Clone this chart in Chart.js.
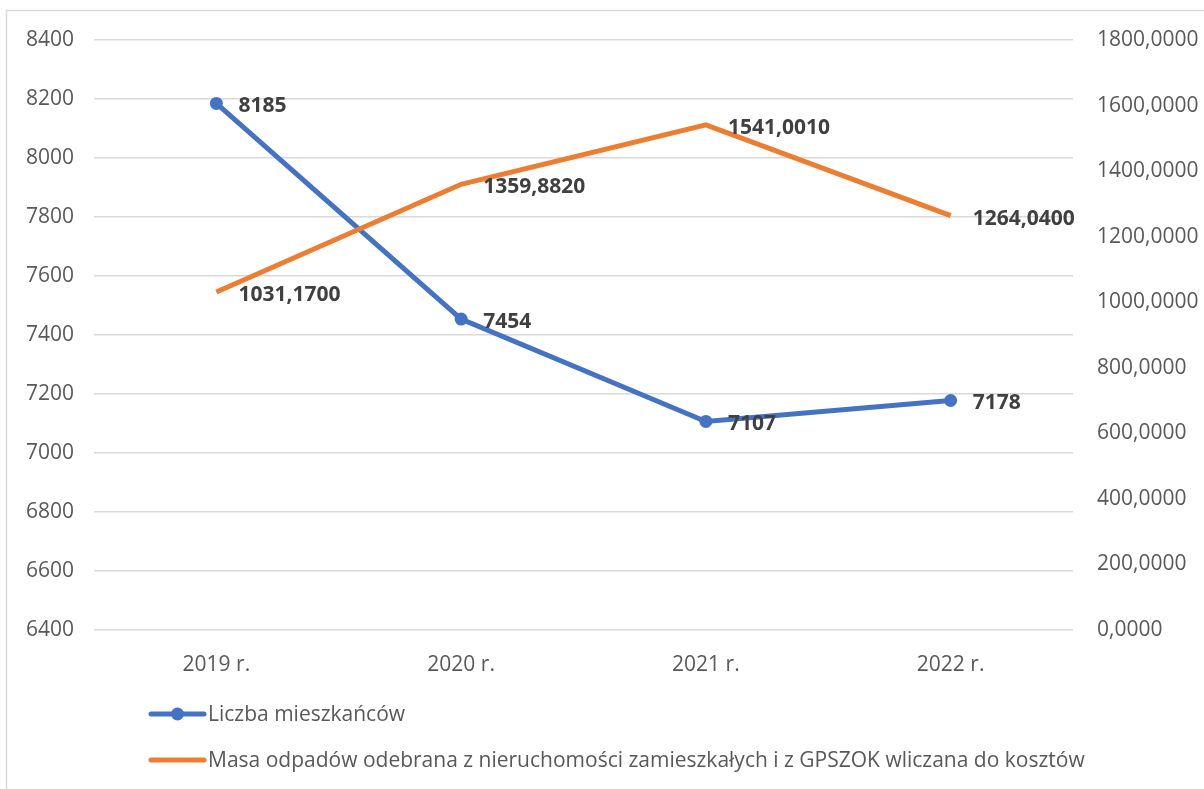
<!DOCTYPE html>
<html>
<head>
<meta charset="utf-8">
<script src="https://cdn.jsdelivr.net/npm/chart.js@4/dist/chart.umd.min.js"></script>
<style>
  html, body { margin: 0; padding: 0; background: #ffffff; }
  #c { display: block; }
</style>
</head>
<body>
<canvas id="c" width="1204" height="789"></canvas>
<script>
const categories = ['2019 r.', '2020 r.', '2021 r.', '2022 r.'];
const mieszkancy = [8185, 7454, 7107, 7178];
const masa = [1031.17, 1359.882, 1541.001, 1264.04];
const seriesNames = [
  'Liczba mieszkańców',
  'Masa odpadów odebrana z nieruchomości zamieszkałych i z GPSZOK wliczana do kosztów'
];
const leftTicks = { min: 6400, max: 8400, step: 200 };
const rightTicks = { min: 0, max: 1800, step: 200 };

const BLUE = '#4472C4';
const ORANGE = '#ED7D31';
const TEXT = '#595959';
const LABEL = '#404040';
const GRID = '#d9d9d9';
const FONT = "'Open Sans', 'Segoe UI', 'Noto Sans', sans-serif";

const fmt4 = v => Number(v).toFixed(4).replace('.', ',');

const decorPlugin = {
  id: 'decor',
  beforeDraw(chart) {
    const ctx = chart.ctx;
    ctx.save();
    ctx.strokeStyle = GRID;
    ctx.lineWidth = 1.5;
    ctx.beginPath();
    ctx.moveTo(6.5, 789);
    ctx.lineTo(6.5, 10.5);
    ctx.lineTo(1204, 10.5);
    ctx.stroke();
    ctx.restore();
  },
  afterDatasetsDraw(chart) {
    const ctx = chart.ctx;
    ctx.save();
    ctx.font = "bold 21px " + FONT;
    ctx.fillStyle = LABEL;
    ctx.textAlign = 'left';
    ctx.textBaseline = 'middle';
    chart.data.datasets.forEach((ds, i) => {
      const meta = chart.getDatasetMeta(i);
      meta.data.forEach((pt, j) => {
        const v = ds.data[j];
        const txt = i === 0 ? String(v) : fmt4(v);
        ctx.fillText(txt, pt.x + 22, pt.y + 3);
      });
    });
    ctx.restore();
  },
  afterDraw(chart) {
    const ctx = chart.ctx;
    ctx.save();
    ctx.font = "21px " + FONT;
    ctx.textAlign = 'left';
    ctx.textBaseline = 'middle';
    const rows = [714, 760];
    const colors = [BLUE, ORANGE];
    rows.forEach((y, i) => {
      ctx.strokeStyle = colors[i];
      ctx.lineWidth = 5;
      ctx.lineCap = 'round';
      ctx.beginPath();
      ctx.moveTo(151, y);
      ctx.lineTo(204, y);
      ctx.stroke();
      if (i === 0) {
        ctx.fillStyle = BLUE;
        ctx.beginPath();
        ctx.arc(177.5, y, 6.5, 0, Math.PI * 2);
        ctx.fill();
      }
      ctx.fillStyle = TEXT;
      ctx.fillText(seriesNames[i], 208, y + 1);
    });
    ctx.restore();
  }
};

new Chart(document.getElementById('c'), {
  type: 'line',
  data: {
    labels: categories,
    datasets: [
      {
        label: seriesNames[0],
        data: mieszkancy,
        yAxisID: 'y',
        borderColor: BLUE,
        backgroundColor: BLUE,
        borderWidth: 5,
        pointRadius: 6.5,
        pointHoverRadius: 6.5,
        pointBackgroundColor: BLUE,
        pointBorderWidth: 0,
        tension: 0,
        order: 1
      },
      {
        label: seriesNames[1],
        data: masa,
        yAxisID: 'y1',
        borderColor: ORANGE,
        backgroundColor: ORANGE,
        borderWidth: 5,
        pointRadius: 0,
        pointHoverRadius: 0,
        tension: 0,
        order: 0
      }
    ]
  },
  options: {
    responsive: false,
    animation: false,
    devicePixelRatio: 1,
    layout: { padding: { top: 40, left: 0, right: 0, bottom: 0 } },
    plugins: {
      legend: { display: false },
      tooltip: { enabled: false }
    },
    scales: {
      x: {
        offset: true,
        grid: { display: false },
        border: { display: false },
        ticks: { color: TEXT, font: { family: FONT, size: 21 }, padding: 14, maxRotation: 0 },
        afterFit(s) { s.height = 159; }
      },
      y: {
        position: 'left',
        min: leftTicks.min,
        max: leftTicks.max,
        grid: { color: GRID, lineWidth: 1.5, drawTicks: false },
        border: { display: false },
        ticks: { stepSize: leftTicks.step, color: TEXT, font: { family: FONT, size: 21 }, padding: 20, callback: v => String(v) },
        afterFit(s) { s.width = 94; }
      },
      y1: {
        position: 'right',
        min: rightTicks.min,
        max: rightTicks.max,
        grid: { display: false, drawTicks: false },
        border: { display: false },
        ticks: { stepSize: rightTicks.step, color: TEXT, font: { family: FONT, size: 21 }, padding: 24, callback: v => fmt4(v) },
        afterFit(s) { s.width = 131; }
      }
    }
  },
  plugins: [decorPlugin]
});
</script>
</body>
</html>
